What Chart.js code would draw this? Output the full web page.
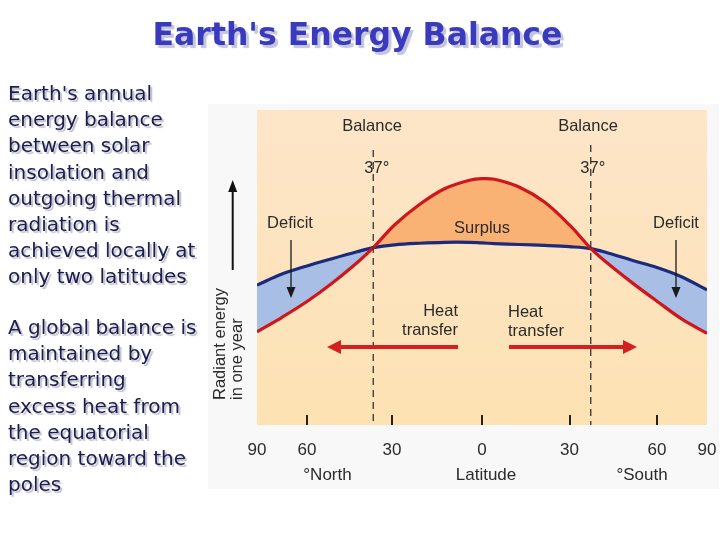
<!DOCTYPE html>
<html>
<head>
<meta charset="utf-8">
<script src="https://cdn.jsdelivr.net/npm/chart.js@4.4.1/dist/chart.umd.min.js"></script>
<style>
  html, body { margin: 0; padding: 0; background: #ffffff; }
  #wrap { position: relative; width: 720px; height: 540px; overflow: hidden; }
  #c { position: absolute; left: 0; top: 0; }
  #title {
    position: absolute; left: 0; width: 715px; top: 19px; text-align: center;
    font-family: "DejaVu Sans", sans-serif; font-weight: bold; font-size: 31.5px; line-height: 1;
    color: #3a3abf; text-shadow: 3px 3px 1px #c4c4dc; white-space: nowrap;
  }
  .para {
    position: absolute; left: 8px; font-family: "DejaVu Sans", sans-serif; font-size: 20px;
    line-height: 26.2px; color: #1c1c4e; text-shadow: 2px 2px 1px #bdbdcc; white-space: nowrap;
  }
</style>
</head>
<body>
<div id="wrap">
  <canvas id="c" width="720" height="540"></canvas>
  <div id="title">Earth's Energy Balance</div>
  <div class="para" style="top:80px">Earth's annual<br>energy balance<br>between solar<br>insolation and<br>outgoing thermal<br>radiation is<br>achieved locally at<br>only two latitudes</div>
  <div class="para" style="top:314px">A global balance is<br>maintained by<br>transferring<br>excess heat from<br>the equatorial<br>region toward the<br>poles</div>
</div>
<script>
// Horizontal position along the diagram's latitude axis (90N = -90 ... 90S = 90)
const positions = [-90, -80, -70, -60, -50, -43.5, -35, -25, -15, -5, 0, 5, 15, 25, 35, 43.5, 50, 60, 70, 80, 90];
// Incoming solar radiation (red)
const solarIn = [29.6, 34.2, 39.2, 45.0, 51.5, 56.3, 63.5, 70.0, 75.0, 77.7, 78.2, 78.0, 75.5, 70.8, 63.5, 56.1, 51.5, 45.2, 39.3, 33.6, 29.1];
// Outgoing thermal radiation (blue)
const thermalOut = [44.4, 47.9, 50.5, 52.8, 55.0, 56.3, 57.2, 57.7, 58.0, 58.0, 57.8, 57.6, 57.3, 57.0, 56.6, 56.0, 54.7, 52.3, 50.0, 47.0, 42.9];
// Balance latitudes (37°) positions
const balancePos = [-43.5, 43.5];
const balanceTop = [87.3, 88.9];
// Axis ticks
const tickPositions = [-90, -70, -36, 0, 35, 70, 90];
const tickLabels = ['90', '60', '30', '0', '30', '60', '90'];
const tickMarkPositions = [-70, -36, 0, 35, 70];

const SANS = '"Liberation Sans", Arial, sans-serif';
const TXT = '#2b2b2b';

const annotations = {
  texts: [
    { t: 'Balance', x: -44, y: 94.9, align: 'center' },
    { t: 'Balance', x: 42.4, y: 94.9, align: 'center' },
    { t: '37°', x: -42.1, y: 81.6, align: 'center' },
    { t: '37°', x: 44.3, y: 81.6, align: 'center' },
    { t: 'Deficit', x: -76.8, y: 64.1, align: 'center' },
    { t: 'Deficit', x: 77.6, y: 64.1, align: 'center' },
    { t: 'Surplus', x: 0, y: 62.5, align: 'center' },
    { t: 'Heat', x: -9.6, y: 35.9, align: 'right' },
    { t: 'transfer', x: -9.6, y: 29.9, align: 'right' },
    { t: 'Heat', x: 10.4, y: 35.6, align: 'left' },
    { t: 'transfer', x: 10.4, y: 29.6, align: 'left' }
  ],
  deficitArrows: [ { x: -76.4, y0: 58.7, y1: 40.3 }, { x: 77.6, y0: 58.7, y1: 40.3 } ],
  heatArrows: [ { x0: -9.6, x1: -62, y: 24.8 }, { x0: 10.8, x1: 62, y: 24.8 } ]
};

const bgPlugin = {
  id: 'bg',
  beforeDraw(chart) {
    const { ctx, chartArea: a } = chart;
    ctx.save();
    ctx.fillStyle = '#f8f8f8';
    ctx.fillRect(208, 104, 511, 385);
    const g = ctx.createLinearGradient(0, a.top, 0, a.bottom);
    g.addColorStop(0, '#fde5c9');
    g.addColorStop(1, '#fde2b3');
    ctx.fillStyle = g;
    ctx.fillRect(a.left, a.top, a.right - a.left, a.bottom - a.top);
    ctx.restore();
  }
};

function arrowHead(ctx, tx, ty, dx, dy, len, half) {
  const L = Math.hypot(dx, dy); const ux = dx / L, uy = dy / L;
  const bx = tx - ux * len, by = ty - uy * len;
  ctx.beginPath();
  ctx.moveTo(tx, ty);
  ctx.lineTo(bx - uy * half, by + ux * half);
  ctx.lineTo(bx + uy * half, by - ux * half);
  ctx.closePath();
  ctx.fill();
}

const annoPlugin = {
  id: 'anno',
  afterDraw(chart) {
    const { ctx, chartArea: a } = chart;
    const xs = chart.scales.x, ys = chart.scales.y;
    ctx.save();
    // tick marks
    ctx.strokeStyle = '#222'; ctx.lineWidth = 2;
    tickMarkPositions.forEach(v => {
      const px = Math.round(xs.getPixelForValue(v));
      ctx.beginPath(); ctx.moveTo(px, a.bottom - 10); ctx.lineTo(px, a.bottom); ctx.stroke();
    });
    // texts
    ctx.fillStyle = TXT; ctx.font = '16.5px ' + SANS; ctx.textBaseline = 'middle';
    annotations.texts.forEach(o => {
      ctx.textAlign = o.align;
      ctx.fillText(o.t, xs.getPixelForValue(o.x), ys.getPixelForValue(o.y));
    });
    // deficit arrows
    ctx.strokeStyle = '#1a1a1a'; ctx.fillStyle = '#1a1a1a'; ctx.lineWidth = 1.3;
    annotations.deficitArrows.forEach(o => {
      const px = xs.getPixelForValue(o.x), p0 = ys.getPixelForValue(o.y0), p1 = ys.getPixelForValue(o.y1);
      ctx.beginPath(); ctx.moveTo(px, p0); ctx.lineTo(px, p1 - 8); ctx.stroke();
      arrowHead(ctx, px, p1, 0, 1, 11, 4.5);
    });
    // heat transfer arrows
    ctx.strokeStyle = '#d42020'; ctx.fillStyle = '#d42020'; ctx.lineWidth = 4;
    annotations.heatArrows.forEach(o => {
      const p0 = xs.getPixelForValue(o.x0), p1 = xs.getPixelForValue(o.x1), py = ys.getPixelForValue(o.y);
      const dir = Math.sign(p1 - p0);
      ctx.beginPath(); ctx.moveTo(p0, py); ctx.lineTo(p1 - dir * 10, py); ctx.stroke();
      arrowHead(ctx, p1, py, dir, 0, 14, 7);
    });
    // vertical axis arrow
    ctx.strokeStyle = '#111'; ctx.fillStyle = '#111'; ctx.lineWidth = 2;
    ctx.beginPath(); ctx.moveTo(232.7, 270); ctx.lineTo(232.7, 188); ctx.stroke();
    arrowHead(ctx, 232.7, 180, 0, -1, 12, 4.5);
    // y label
    ctx.fillStyle = TXT; ctx.font = '16.5px ' + SANS; ctx.textAlign = 'left'; ctx.textBaseline = 'middle';
    [['Radiant energy', 220], ['in one year', 237]].forEach(([t, x]) => {
      ctx.save(); ctx.translate(x, 400); ctx.rotate(-Math.PI / 2); ctx.fillText(t, 0, 0); ctx.restore();
    });
    // bottom labels
    ctx.font = '17px ' + SANS; ctx.textAlign = 'center';
    ctx.fillText('°North', 327.5, 475);
    ctx.fillText('Latitude', 486, 475);
    ctx.fillText('°South', 642, 475);
    ctx.restore();
  }
};

const pts = arr => positions.map((p, i) => ({ x: p, y: arr[i] }));

new Chart(document.getElementById('c'), {
  type: 'line',
  data: {
    datasets: [
      {
        label: 'Solar insolation', data: pts(solarIn), borderColor: '#cf161c', borderWidth: 3.2,
        pointRadius: 0, tension: 0.35, order: 1,
        fill: { target: 1, above: '#f9b274', below: '#a8bee4' }
      },
      {
        label: 'Outgoing thermal radiation', data: pts(thermalOut), borderColor: '#1b2a7c', borderWidth: 3.2,
        pointRadius: 0, tension: 0.35, order: 2, fill: false
      },
      {
        label: 'Balance N', data: [{ x: balancePos[0], y: balanceTop[0] }, { x: balancePos[0], y: 0 }],
        borderColor: '#333', borderWidth: 1.3, borderDash: [7, 5], pointRadius: 0, order: 0, fill: false
      },
      {
        label: 'Balance S', data: [{ x: balancePos[1], y: balanceTop[1] }, { x: balancePos[1], y: 0 }],
        borderColor: '#333', borderWidth: 1.3, borderDash: [7, 5], pointRadius: 0, order: 0, fill: false
      }
    ]
  },
  options: {
    responsive: false, animation: false, devicePixelRatio: 1,
    layout: { autoPadding: false, padding: { left: 257, right: 13, top: 110, bottom: 64.6 } },
    plugins: { legend: { display: false }, tooltip: { enabled: false }, filler: { drawTime: 'beforeDatasetsDraw' } },
    scales: {
      x: {
        type: 'linear', min: -90, max: 90,
        grid: { display: false, drawTicks: false }, border: { display: false },
        afterBuildTicks: s => { s.ticks = tickPositions.map(v => ({ value: v })); },
        afterFit: s => { s.paddingLeft = 0; s.paddingRight = 0; },
        ticks: {
          padding: 15, color: TXT, font: { family: SANS, size: 17 }, maxRotation: 0, autoSkip: false,
          callback: (v, i) => tickLabels[i]
        }
      },
      y: { type: 'linear', min: 0, max: 100, display: false }
    }
  },
  plugins: [bgPlugin, annoPlugin]
});
</script>
</body>
</html>
